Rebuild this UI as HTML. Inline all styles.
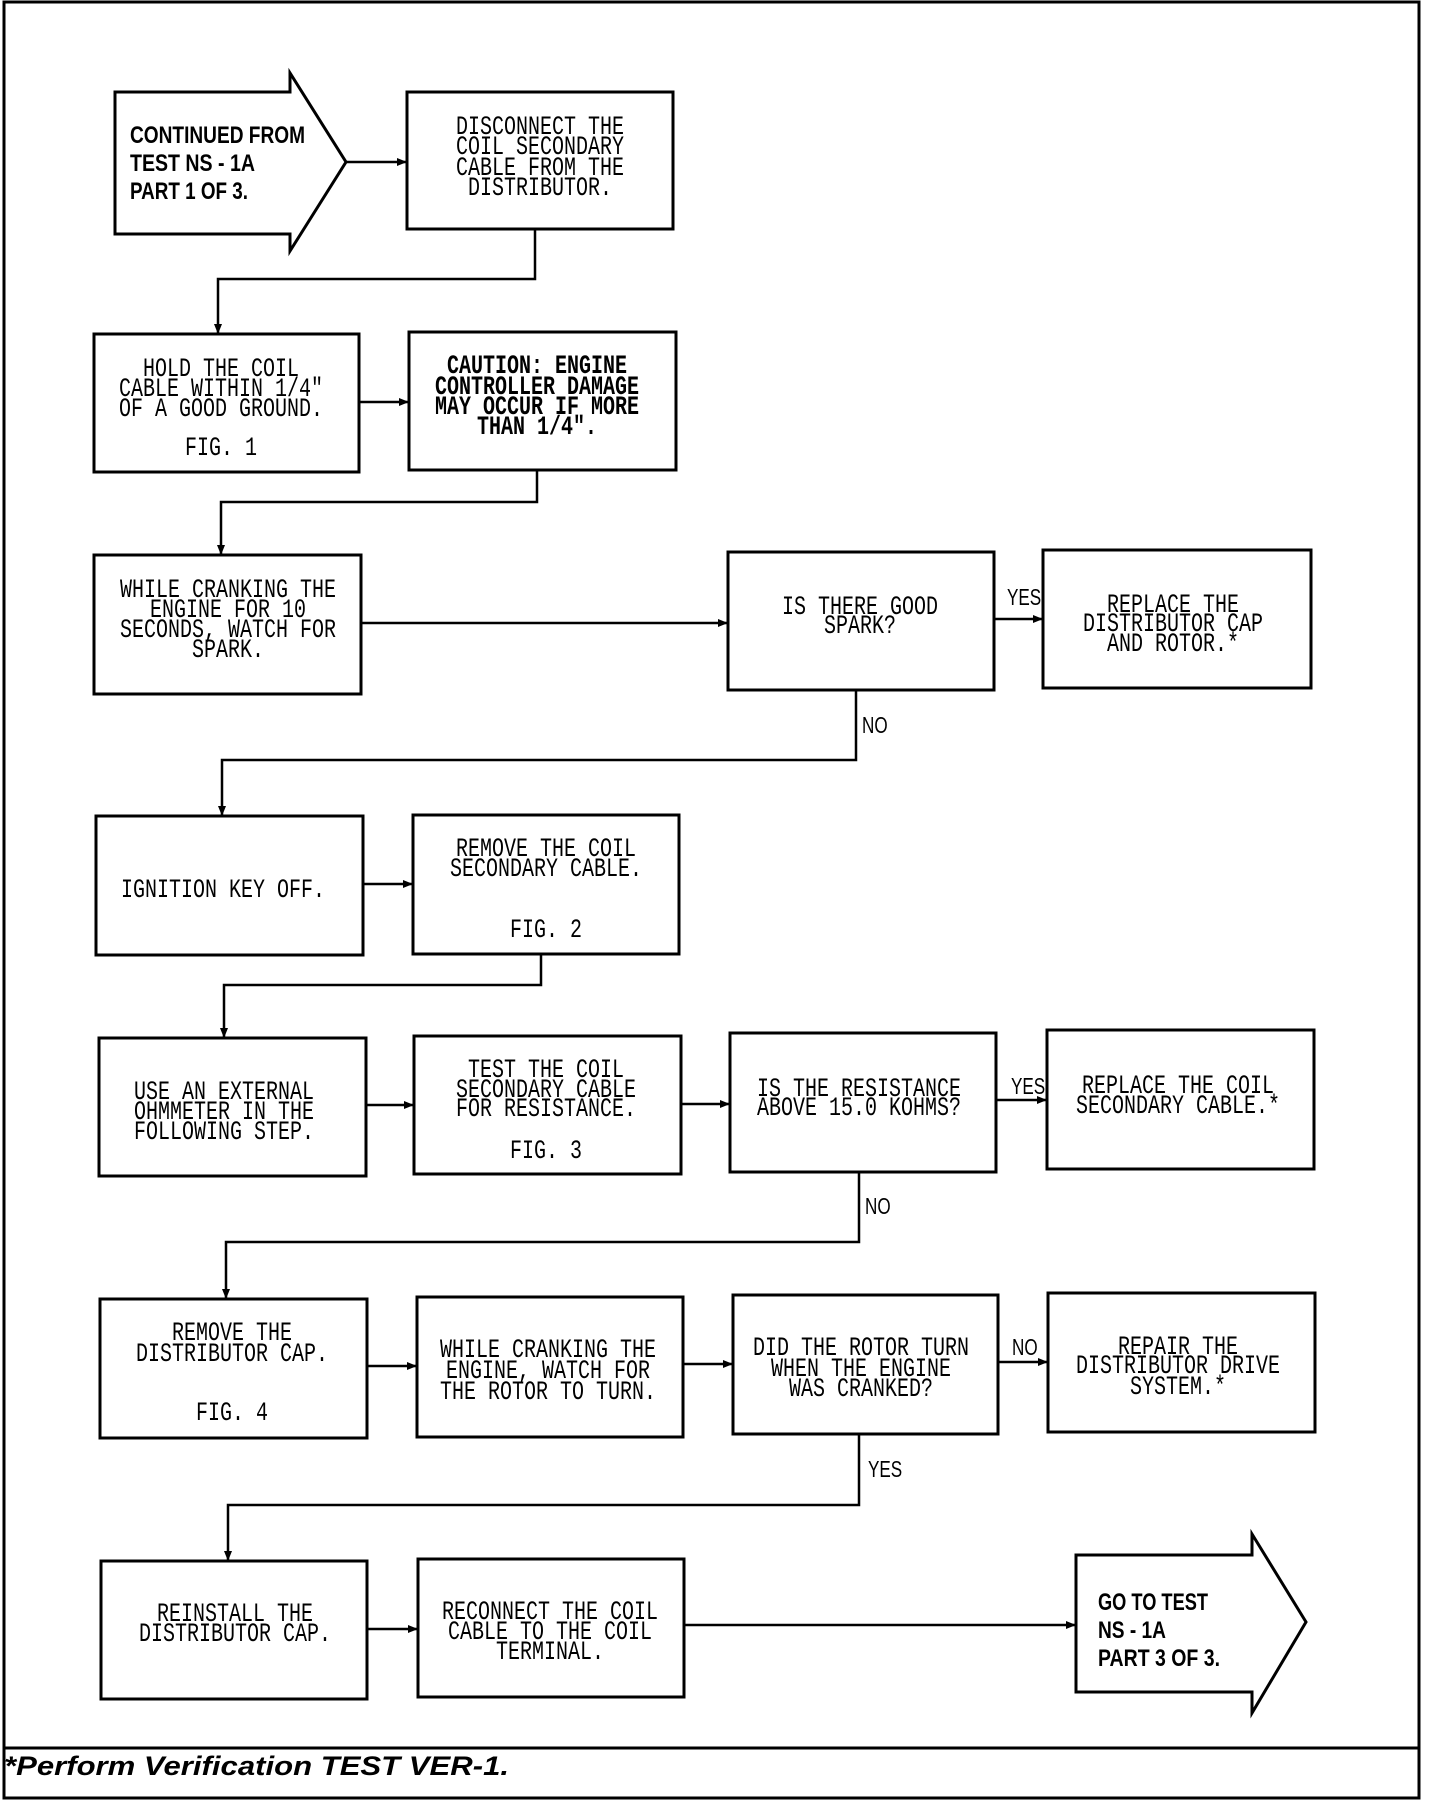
<!DOCTYPE html>
<html><head><meta charset="utf-8"><style>
html,body{margin:0;padding:0;background:#fff;}
svg{display:block;}
.m{font-family:"Liberation Mono",monospace;font-size:20px;fill:#000;}
.mb{font-family:"Liberation Mono",monospace;font-size:20px;font-weight:bold;fill:#000;}
.n{font-family:"Liberation Sans Narrow","Liberation Sans",sans-serif;font-size:24px;font-weight:bold;fill:#000;}
.l{font-family:"Liberation Sans",sans-serif;font-size:19px;fill:#000;}
</style></head><body>
<svg width="1440" height="1804" viewBox="0 0 1440 1804" xmlns="http://www.w3.org/2000/svg">
<defs><marker id="a" markerWidth="10" markerHeight="10" refX="9" refY="5" orient="auto" markerUnits="userSpaceOnUse"><path d="M0,1 L10,5 L0,9 z" fill="#000"/></marker></defs>
<g fill="none" stroke="#000" stroke-width="3">
<rect x="4" y="2" width="1415" height="1796"/>
<line x1="4" y1="1748" x2="1419" y2="1748"/>
<!-- start arrow -->
<polygon points="115,92 290,92 290,73 346,162 290,251 290,234 115,234"/>
<rect x="407" y="92" width="266" height="137"/>
<rect x="94" y="334" width="265" height="138"/>
<rect x="409" y="332" width="267" height="138"/>
<rect x="94" y="555" width="267" height="139"/>
<rect x="728" y="552" width="266" height="138"/>
<rect x="1043" y="550" width="268" height="138"/>
<rect x="96" y="816" width="267" height="139"/>
<rect x="413" y="815" width="266" height="139"/>
<rect x="99" y="1038" width="267" height="138"/>
<rect x="414" y="1036" width="267" height="138"/>
<rect x="730" y="1033" width="266" height="139"/>
<rect x="1047" y="1030" width="267" height="139"/>
<rect x="100" y="1299" width="267" height="139"/>
<rect x="417" y="1297" width="266" height="140"/>
<rect x="733" y="1295" width="265" height="139"/>
<rect x="1048" y="1293" width="267" height="139"/>
<rect x="101" y="1561" width="266" height="138"/>
<rect x="418" y="1559" width="266" height="138"/>
<polygon points="1076,1555 1252,1555 1252,1534 1306,1622 1252,1713 1252,1692 1076,1692"/>
</g>
<g fill="none" stroke="#000" stroke-width="2.5">
<line x1="346" y1="162" x2="406" y2="162" marker-end="url(#a)"/>
<polyline points="535,229 535,279 218,279 218,333" marker-end="url(#a)"/>
<line x1="359" y1="402" x2="408" y2="402" marker-end="url(#a)"/>
<polyline points="537,470 537,502 221,502 221,554" marker-end="url(#a)"/>
<line x1="361" y1="623" x2="727" y2="623" marker-end="url(#a)"/>
<line x1="994" y1="619" x2="1042" y2="619" marker-end="url(#a)"/>
<polyline points="856,690 856,760 222,760 222,815" marker-end="url(#a)"/>
<line x1="363" y1="884" x2="412" y2="884" marker-end="url(#a)"/>
<polyline points="541,954 541,985 224,985 224,1037" marker-end="url(#a)"/>
<line x1="366" y1="1105" x2="413" y2="1105" marker-end="url(#a)"/>
<line x1="681" y1="1104" x2="729" y2="1104" marker-end="url(#a)"/>
<line x1="996" y1="1100" x2="1046" y2="1100" marker-end="url(#a)"/>
<polyline points="859,1172 859,1242 226,1242 226,1298" marker-end="url(#a)"/>
<line x1="367" y1="1366" x2="416" y2="1366" marker-end="url(#a)"/>
<line x1="683" y1="1364" x2="732" y2="1364" marker-end="url(#a)"/>
<line x1="998" y1="1362" x2="1047" y2="1362" marker-end="url(#a)"/>
<polyline points="859,1434 859,1505 228,1505 228,1560" marker-end="url(#a)"/>
<line x1="367" y1="1629" x2="417" y2="1629" marker-end="url(#a)"/>
<line x1="684" y1="1625" x2="1075" y2="1625" marker-end="url(#a)"/>
</g>
<g class="n">
<text x="130" y="143" textLength="175" lengthAdjust="spacingAndGlyphs">CONTINUED FROM</text>
<text x="130" y="171" textLength="125" lengthAdjust="spacingAndGlyphs">TEST NS - 1A</text>
<text x="130" y="199" textLength="118" lengthAdjust="spacingAndGlyphs">PART 1 OF 3.</text>
<text x="1098" y="1610" textLength="110" lengthAdjust="spacingAndGlyphs">GO TO TEST</text>
<text x="1098" y="1638" textLength="68" lengthAdjust="spacingAndGlyphs">NS - 1A</text>
<text x="1098" y="1666" textLength="122" lengthAdjust="spacingAndGlyphs">PART 3 OF 3.</text>
</g>
<g class="m" text-anchor="middle">
<text transform="translate(540,134) scale(1,1.35)">DISCONNECT THE</text>
<text transform="translate(540,154) scale(1,1.35)">COIL SECONDARY</text>
<text transform="translate(540,175) scale(1,1.35)">CABLE FROM THE</text>
<text transform="translate(540,195) scale(1,1.35)">DISTRIBUTOR.</text>
<text transform="translate(221,376) scale(1,1.35)">HOLD THE COIL</text>
<text transform="translate(221,396) scale(1,1.35)">CABLE WITHIN 1/4"</text>
<text transform="translate(221,416) scale(1,1.35)">OF A GOOD GROUND.</text>
<text transform="translate(221,455) scale(1,1.35)">FIG. 1</text>
<text transform="translate(228,597) scale(1,1.35)">WHILE CRANKING THE</text>
<text transform="translate(228,617) scale(1,1.35)">ENGINE FOR 10</text>
<text transform="translate(228,637) scale(1,1.35)">SECONDS, WATCH FOR</text>
<text transform="translate(228,657) scale(1,1.35)">SPARK.</text>
<text transform="translate(860,614) scale(1,1.35)">IS THERE GOOD</text>
<text transform="translate(860,633) scale(1,1.35)">SPARK?</text>
<text transform="translate(1173,612) scale(1,1.35)">REPLACE THE</text>
<text transform="translate(1173,631) scale(1,1.35)">DISTRIBUTOR CAP</text>
<text transform="translate(1173,651) scale(1,1.35)">AND ROTOR.*</text>
<text transform="translate(223,897) scale(1,1.35)">IGNITION KEY OFF.</text>
<text transform="translate(546,856) scale(1,1.35)">REMOVE THE COIL</text>
<text transform="translate(546,876) scale(1,1.35)">SECONDARY CABLE.</text>
<text transform="translate(546,937) scale(1,1.35)">FIG. 2</text>
<text transform="translate(224,1099) scale(1,1.35)">USE AN EXTERNAL</text>
<text transform="translate(224,1119) scale(1,1.35)">OHMMETER IN THE</text>
<text transform="translate(224,1139) scale(1,1.35)">FOLLOWING STEP.</text>
<text transform="translate(546,1077) scale(1,1.35)">TEST THE COIL</text>
<text transform="translate(546,1097) scale(1,1.35)">SECONDARY CABLE</text>
<text transform="translate(546,1116) scale(1,1.35)">FOR RESISTANCE.</text>
<text transform="translate(546,1158) scale(1,1.35)">FIG. 3</text>
<text transform="translate(859,1096) scale(1,1.35)">IS THE RESISTANCE</text>
<text transform="translate(859,1115) scale(1,1.35)">ABOVE 15.0 KOHMS?</text>
<text transform="translate(1178,1093) scale(1,1.35)">REPLACE THE COIL</text>
<text transform="translate(1178,1113) scale(1,1.35)">SECONDARY CABLE.*</text>
<text transform="translate(232,1340) scale(1,1.35)">REMOVE THE</text>
<text transform="translate(232,1361) scale(1,1.35)">DISTRIBUTOR CAP.</text>
<text transform="translate(232,1420) scale(1,1.35)">FIG. 4</text>
<text transform="translate(548,1357) scale(1,1.35)">WHILE CRANKING THE</text>
<text transform="translate(548,1378) scale(1,1.35)">ENGINE, WATCH FOR</text>
<text transform="translate(548,1399) scale(1,1.35)">THE ROTOR TO TURN.</text>
<text transform="translate(861,1355) scale(1,1.35)">DID THE ROTOR TURN</text>
<text transform="translate(861,1376) scale(1,1.35)">WHEN THE ENGINE</text>
<text transform="translate(861,1396) scale(1,1.35)">WAS CRANKED?</text>
<text transform="translate(1178,1354) scale(1,1.35)">REPAIR THE</text>
<text transform="translate(1178,1373) scale(1,1.35)">DISTRIBUTOR DRIVE</text>
<text transform="translate(1178,1394) scale(1,1.35)">SYSTEM.*</text>
<text transform="translate(235,1621) scale(1,1.35)">REINSTALL THE</text>
<text transform="translate(235,1641) scale(1,1.35)">DISTRIBUTOR CAP.</text>
<text transform="translate(550,1619) scale(1,1.35)">RECONNECT THE COIL</text>
<text transform="translate(550,1639) scale(1,1.35)">CABLE TO THE COIL</text>
<text transform="translate(550,1659) scale(1,1.35)">TERMINAL.</text>
</g>
<g class="mb" text-anchor="middle">
<text transform="translate(537,373) scale(1,1.35)">CAUTION: ENGINE</text>
<text transform="translate(537,394) scale(1,1.35)">CONTROLLER DAMAGE</text>
<text transform="translate(537,414) scale(1,1.35)">MAY OCCUR IF MORE</text>
<text transform="translate(537,434) scale(1,1.35)">THAN 1/4".</text>
</g>
<g class="l">
<text transform="translate(1007,605) scale(0.9,1.2)">YES</text>
<text transform="translate(862,733) scale(0.9,1.2)">NO</text>
<text transform="translate(1011,1094) scale(0.9,1.2)">YES</text>
<text transform="translate(865,1214) scale(0.9,1.2)">NO</text>
<text transform="translate(1012,1355) scale(0.9,1.2)">NO</text>
<text transform="translate(868,1477) scale(0.9,1.2)">YES</text>
</g>
<text x="4" y="1775" textLength="505" lengthAdjust="spacingAndGlyphs" style="font-family:'Liberation Sans',sans-serif;font-size:27px;font-weight:bold;font-style:italic;">*Perform Verification TEST VER-1.</text>
</svg>
</body></html>
